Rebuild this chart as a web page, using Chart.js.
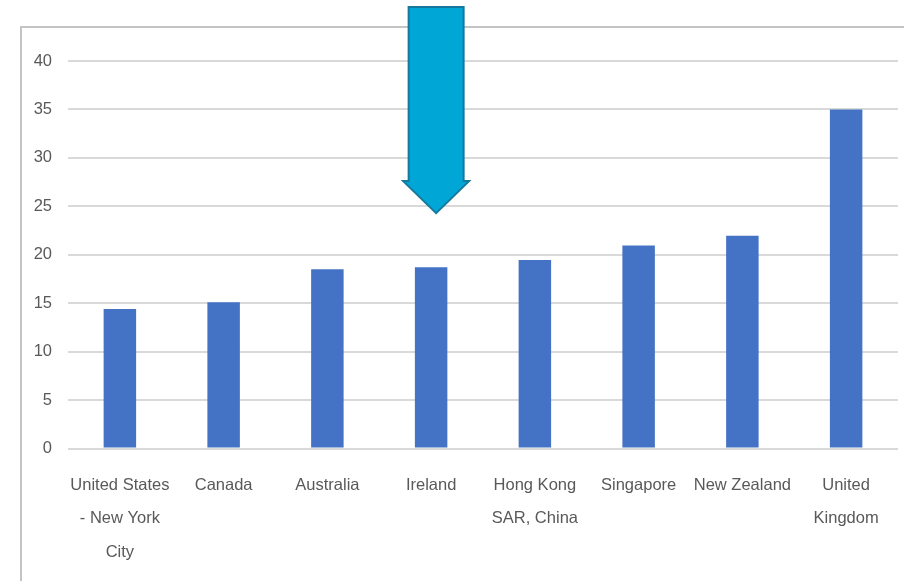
<!DOCTYPE html>
<html>
<head>
<meta charset="utf-8">
<script src="https://cdn.jsdelivr.net/npm/chart.js@4/dist/chart.umd.min.js"></script>
<style>
  html, body { margin: 0; padding: 0; background: #ffffff; }
  #wrap { width: 904px; height: 581px; position: relative; }
</style>
</head>
<body>
<div id="wrap"><canvas id="c" width="904" height="581"></canvas></div>
<script>
const categories = [
  ["United States", "- New York", "City"],
  "Canada",
  "Australia",
  "Ireland",
  ["Hong Kong", "SAR, China"],
  "Singapore",
  "New Zealand",
  ["United", "Kingdom"]
];
const values = [14.4, 15.1, 18.5, 18.7, 19.45, 20.95, 21.95, 35.0];
const yTicks = [0, 5, 10, 15, 20, 25, 30, 35, 40];
const highlightIndex = 3;      // Ireland, marked by the arrow
const arrowTipValue = 24.3;    // arrow tip height in axis units

const fontFamily = "'Liberation Sans', Arial, sans-serif";

const framePlugin = {
  id: 'frame',
  beforeDraw(chart) {
    const ctx = chart.ctx;
    ctx.save();
    ctx.strokeStyle = '#c4c4c4';
    ctx.lineWidth = 2;
    ctx.beginPath();
    ctx.moveTo(21, 581);
    ctx.lineTo(21, 27);
    ctx.lineTo(904, 27);
    ctx.stroke();
    ctx.restore();
  }
};

const arrowPlugin = {
  id: 'arrow',
  afterDraw(chart) {
    const xs = chart.scales.x, ys = chart.scales.y;
    const cx = xs.getPixelForValue(highlightIndex) + 5;
    const tipY = ys.getPixelForValue(arrowTipValue);
    const top = 7;
    const shaftHalf = 27.5;
    const headHalf = 33;
    const headTop = tipY - 32;
    const ctx = chart.ctx;
    ctx.save();
    ctx.beginPath();
    ctx.moveTo(cx - shaftHalf, top);
    ctx.lineTo(cx + shaftHalf, top);
    ctx.lineTo(cx + shaftHalf, headTop);
    ctx.lineTo(cx + headHalf, headTop);
    ctx.lineTo(cx, tipY);
    ctx.lineTo(cx - headHalf, headTop);
    ctx.lineTo(cx - shaftHalf, headTop);
    ctx.closePath();
    ctx.fillStyle = '#00a6d6';
    ctx.fill();
    ctx.strokeStyle = '#16799c';
    ctx.lineWidth = 2;
    ctx.lineJoin = 'miter';
    ctx.stroke();
    ctx.restore();
  }
};

new Chart(document.getElementById('c'), {
  type: 'bar',
  data: {
    labels: categories,
    datasets: [{
      data: values,
      backgroundColor: '#4472c4',
      borderWidth: 0,
      barPercentage: 0.313,
      categoryPercentage: 1.0
    }]
  },
  options: {
    responsive: false,
    animation: false,
    devicePixelRatio: 1,
    layout: { padding: { top: 61, right: 6, bottom: 0, left: 21 } },
    plugins: {
      legend: { display: false },
      tooltip: { enabled: false },
      title: { display: false }
    },
    scales: {
      x: {
        grid: { display: false, drawTicks: false },
        border: { display: false },
        ticks: {
          color: '#595959',
          font: { family: fontFamily, size: 16.5, lineHeight: 2.03 },
          padding: 20,
          maxRotation: 0,
          autoSkip: false
        },
        afterFit(scale) { scale.height = 132.5; }
      },
      y: {
        min: 0,
        max: 40,
        afterBuildTicks(scale) { scale.ticks = yTicks.map(v => ({ value: v })); },
        grid: { color: '#d9d9d9', lineWidth: 2, drawTicks: false },
        border: { display: false },
        ticks: {
          color: '#595959',
          font: { family: fontFamily, size: 16.5 },
          padding: 16
        },
        afterFit(scale) { scale.width = 47; }
      }
    }
  },
  plugins: [framePlugin, arrowPlugin]
});
</script>
</body>
</html>
